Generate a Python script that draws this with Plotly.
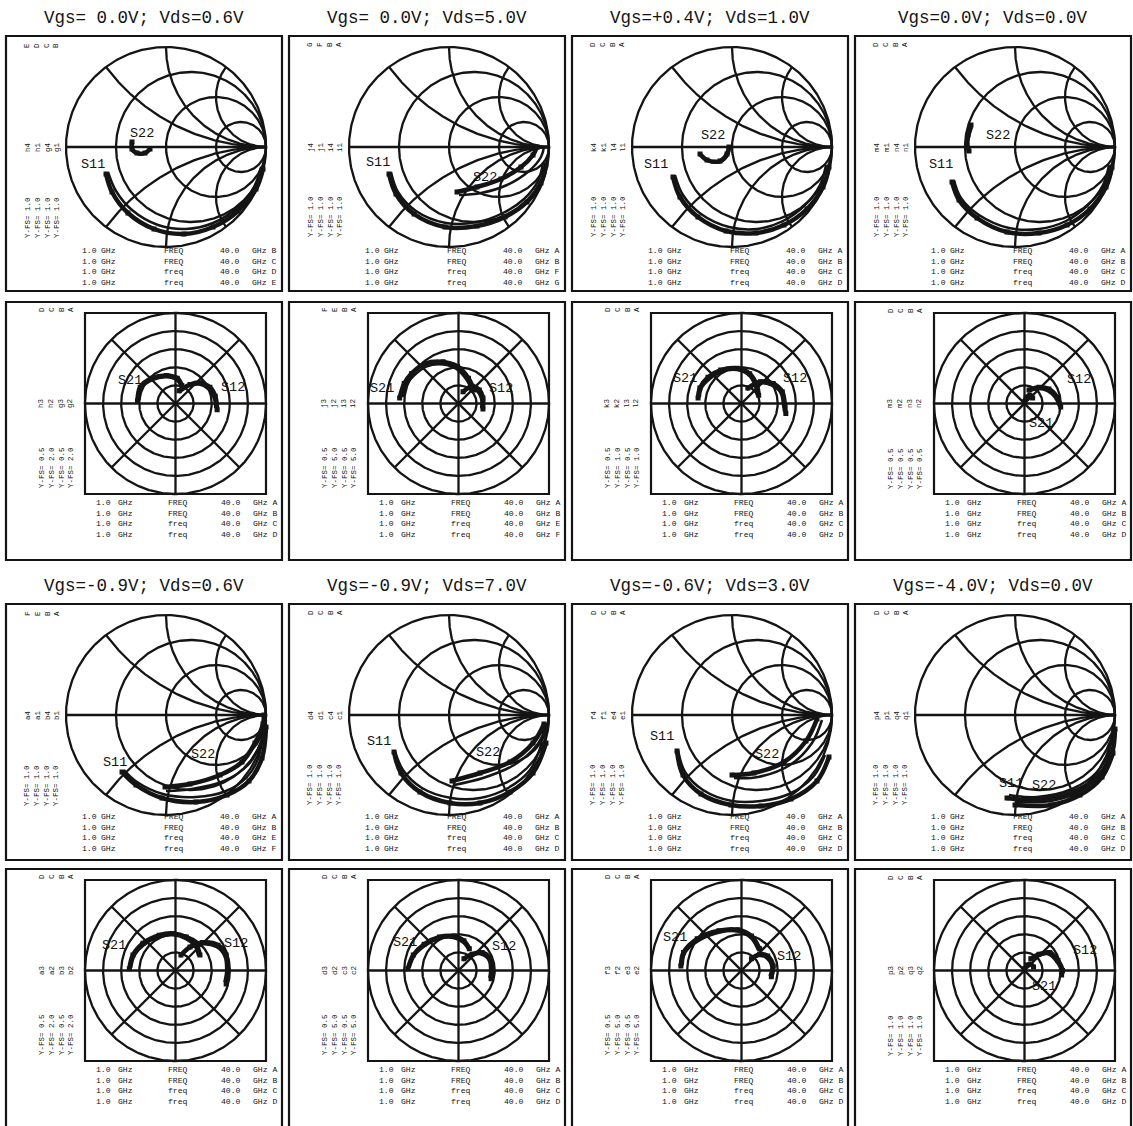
import numpy as np
import plotly.graph_objects as go

FIG_W, FIG_H = 1133, 1126

# ---------------------------------------------------------------------------
# Bias points shown above the Smith-chart rows
titles_top = ["Vgs= 0.0V; Vds=0.6V", "Vgs= 0.0V; Vds=5.0V",
              "Vgs=+0.4V; Vds=1.0V", "Vgs=0.0V; Vds=0.0V"]
titles_bottom = ["Vgs=-0.9V; Vds=0.6V", "Vgs=-0.9V; Vds=7.0V",
                 "Vgs=-0.6V; Vds=3.0V", "Vgs=-4.0V; Vds=0.0V"]

# Sweep description printed under every chart
f_start = "1.0"
f_stop = "40.0"
f_unit = "GHz"
sweep_names = ["FREQ", "FREQ", "freq", "freq"]

# ---------------------------------------------------------------------------
# Reflection coefficients (S11, S22), 1 - 40 GHz, measured and model
s11_meas_1 = [-0.60-0.27j, -0.54-0.45j, -0.38-0.66j, -0.12-0.82j, 0.18-0.87j, 0.47-0.80j, 0.72-0.64j, 0.90-0.42j, 0.97-0.22j]
s11_model_1 = [-0.58-0.25j, -0.50-0.44j, -0.34-0.63j, -0.08-0.78j, 0.20-0.82j, 0.47-0.76j, 0.72-0.60j, 0.88-0.40j, 0.95-0.20j]
s22_meas_1 = [-0.34+0.05j, -0.34-0.02j, -0.29-0.06j, -0.21-0.06j, -0.16-0.02j]
s22_model_1 = [-0.33+0.04j, -0.33-0.03j, -0.28-0.07j, -0.20-0.06j, -0.15-0.01j]

s11_meas_2 = [-0.60-0.27j, -0.53-0.47j, -0.35-0.67j, -0.04-0.80j, 0.28-0.79j, 0.56-0.70j, 0.78-0.55j, 0.92-0.36j, 0.97-0.18j]
s11_model_2 = [-0.58-0.25j, -0.51-0.45j, -0.33-0.64j, -0.03-0.76j, 0.28-0.75j, 0.54-0.66j, 0.75-0.52j, 0.89-0.34j, 0.94-0.16j]
s22_meas_2 = [0.08-0.45j, 0.28-0.40j, 0.52-0.32j, 0.72-0.20j, 0.84-0.08j, 0.88+0.00j]
s22_model_2 = [0.10-0.48j, 0.32-0.46j, 0.58-0.38j, 0.80-0.24j, 0.92-0.10j, 0.95+0.00j]

s11_meas_3 = [-0.59-0.30j, -0.52-0.50j, -0.34-0.70j, -0.06-0.84j, 0.24-0.86j, 0.52-0.78j, 0.75-0.62j, 0.91-0.40j, 0.97-0.20j]
s11_model_3 = [-0.57-0.28j, -0.49-0.48j, -0.31-0.67j, -0.03-0.80j, 0.25-0.82j, 0.51-0.74j, 0.73-0.58j, 0.88-0.38j, 0.94-0.18j]
s22_meas_3 = [-0.32-0.07j, -0.25-0.13j, -0.12-0.14j, -0.05-0.07j, -0.03+0.00j]
s22_model_3 = [-0.31-0.08j, -0.24-0.14j, -0.11-0.15j, -0.04-0.08j, -0.02+0.01j]

s11_meas_4 = [-0.63-0.35j, -0.56-0.53j, -0.38-0.71j, -0.08-0.85j, 0.24-0.86j, 0.52-0.78j, 0.75-0.62j, 0.91-0.40j, 0.97-0.20j]
s11_model_4 = [-0.61-0.33j, -0.54-0.51j, -0.36-0.68j, -0.06-0.81j, 0.24-0.82j, 0.51-0.74j, 0.73-0.58j, 0.88-0.38j, 0.94-0.18j]
s22_meas_4 = [-0.44+0.22j, -0.47+0.12j, -0.48+0.02j, -0.46-0.04j]
s22_model_4 = [-0.43+0.20j, -0.46+0.10j, -0.47+0.01j, -0.45-0.05j]

s11_meas_5 = [-0.44-0.57j, -0.30-0.70j, -0.04-0.83j, 0.30-0.87j, 0.61-0.80j, 0.83-0.66j, 0.96-0.43j, 1.00-0.12j]
s11_model_5 = [-0.42-0.55j, -0.29-0.67j, -0.03-0.79j, 0.30-0.82j, 0.60-0.76j, 0.81-0.62j, 0.93-0.41j, 0.97-0.10j]
s22_meas_5 = [-0.01-0.72j, 0.24-0.69j, 0.54-0.60j, 0.76-0.47j, 0.89-0.28j, 0.97-0.09j, 0.98+0.00j]
s22_model_5 = [0.00-0.76j, 0.26-0.74j, 0.58-0.66j, 0.82-0.50j, 0.95-0.28j, 1.00-0.05j]

s11_meas_6 = [-0.55-0.37j, -0.48-0.58j, -0.29-0.77j, 0.01-0.88j, 0.31-0.88j, 0.61-0.77j, 0.84-0.58j, 0.97-0.28j]
s11_model_6 = [-0.54-0.36j, -0.46-0.55j, -0.27-0.73j, 0.02-0.83j, 0.31-0.83j, 0.59-0.73j, 0.81-0.55j, 0.93-0.27j]
s22_meas_6 = [0.03-0.66j, 0.31-0.58j, 0.61-0.47j, 0.84-0.28j, 0.95-0.09j]
s22_model_6 = [0.05-0.70j, 0.34-0.63j, 0.65-0.50j, 0.88-0.30j, 0.98-0.10j]

s11_meas_7 = [-0.55-0.36j, -0.49-0.60j, -0.31-0.79j, -0.01-0.90j, 0.29-0.91j, 0.59-0.84j, 0.85-0.66j, 0.97-0.42j]
s11_model_7 = [-0.54-0.35j, -0.47-0.57j, -0.29-0.75j, 0.00-0.86j, 0.29-0.86j, 0.57-0.79j, 0.81-0.62j, 0.93-0.40j]
s22_meas_7 = [0.00-0.60j, 0.22-0.58j, 0.52-0.47j, 0.74-0.26j, 0.85-0.04j]
s22_model_7 = [0.02-0.63j, 0.26-0.62j, 0.58-0.50j, 0.80-0.28j, 0.90-0.05j]

s11_meas_8 = [-0.08-0.83j, 0.21-0.85j, 0.58-0.77j, 0.84-0.60j, 0.97-0.38j, 1.00-0.14j]
s11_model_8 = [-0.06-0.80j, 0.22-0.82j, 0.57-0.74j, 0.82-0.57j, 0.94-0.36j, 0.98-0.12j]
s22_meas_8 = [0.00-0.90j, 0.36-0.90j, 0.65-0.80j, 0.87-0.62j, 0.98-0.38j]
s22_model_8 = [0.02-0.87j, 0.36-0.86j, 0.64-0.77j, 0.85-0.59j, 0.96-0.35j]

# ---------------------------------------------------------------------------
# Transmission coefficients (S21, S12), 1 - 40 GHz, measured and model
s21_meas_1 = [-0.84+0.06j, -0.78+0.36j, -0.52+0.56j, -0.20+0.62j, 0.04+0.56j, 0.14+0.40j]
s21_model_1 = [-0.80+0.08j, -0.74+0.34j, -0.50+0.52j, -0.20+0.58j, 0.02+0.52j, 0.12+0.38j]
s12_meas_1 = [0.02+0.07j, 0.08+0.105j, 0.135+0.115j, 0.19+0.09j, 0.22+0.04j, 0.23-0.035j]
s12_model_1 = [0.02+0.06j, 0.075+0.095j, 0.13+0.105j, 0.18+0.08j, 0.21+0.035j, 0.22-0.025j]

s21_meas_2 = [-3.25+0.30j, -3.00+1.10j, -2.60+1.65j, -1.85+2.20j, -0.85+2.30j, -0.05+2.05j, 0.55+1.40j, 0.85+0.75j]
s21_model_2 = [-3.10+0.35j, -2.85+1.05j, -2.45+1.55j, -1.75+2.05j, -0.85+2.15j, -0.10+1.90j, 0.45+1.30j, 0.75+0.70j]
s12_meas_2 = [0.025+0.065j, 0.075+0.095j, 0.115+0.075j, 0.135+0.03j, 0.135-0.03j]
s12_model_2 = [0.02+0.055j, 0.07+0.085j, 0.105+0.065j, 0.125+0.025j, 0.125-0.025j]

s21_meas_3 = [-0.48+0.06j, -0.46+0.17j, -0.37+0.29j, -0.23+0.37j, -0.05+0.39j, 0.09+0.33j, 0.17+0.20j, 0.19+0.09j]
s21_model_3 = [-0.46+0.07j, -0.44+0.17j, -0.35+0.27j, -0.22+0.35j, -0.05+0.37j, 0.08+0.31j, 0.15+0.19j, 0.17+0.09j]
s12_meas_3 = [0.035+0.085j, 0.105+0.12j, 0.175+0.11j, 0.225+0.065j, 0.24-0.01j, 0.245-0.055j]
s12_model_3 = [0.03+0.075j, 0.10+0.11j, 0.165+0.10j, 0.215+0.06j, 0.23-0.01j, 0.235-0.045j]

s21_meas_4 = [0.00+0.01j, 0.01+0.035j, 0.03+0.045j, 0.045+0.03j]
s21_model_4 = [0.00+0.01j, 0.01+0.03j, 0.03+0.04j, 0.04+0.025j]
s12_meas_4 = [0.025+0.075j, 0.08+0.09j, 0.135+0.08j, 0.18+0.035j, 0.20-0.02j]
s12_model_4 = [0.02+0.065j, 0.075+0.08j, 0.125+0.07j, 0.17+0.03j, 0.19-0.015j]

s21_meas_5 = [-1.02+0.04j, -0.94+0.34j, -0.72+0.60j, -0.36+0.78j, -0.06+0.82j, 0.24+0.74j, 0.46+0.56j, 0.54+0.34j]
s21_model_5 = [-0.98+0.06j, -0.90+0.34j, -0.70+0.56j, -0.36+0.74j, -0.06+0.78j, 0.22+0.70j, 0.42+0.54j, 0.50+0.32j]
s12_meas_5 = [0.03+0.085j, 0.08+0.13j, 0.15+0.155j, 0.235+0.14j, 0.28+0.085j, 0.29+0.00j, 0.28-0.075j]
s12_model_5 = [0.025+0.075j, 0.075+0.12j, 0.145+0.145j, 0.225+0.13j, 0.27+0.08j, 0.28+0.00j, 0.27-0.065j]

s21_meas_6 = [-2.80+0.10j, -2.50+0.85j, -1.90+1.45j, -1.05+1.85j, -0.30+1.90j, 0.30+1.65j, 0.60+1.20j]
s21_model_6 = [-2.70+0.15j, -2.40+0.85j, -1.85+1.35j, -1.05+1.75j, -0.30+1.80j, 0.25+1.55j, 0.55+1.15j]
s12_meas_6 = [0.03+0.065j, 0.075+0.09j, 0.13+0.10j, 0.175+0.065j, 0.185+0.00j, 0.18-0.045j]
s12_model_6 = [0.025+0.055j, 0.07+0.08j, 0.12+0.09j, 0.165+0.06j, 0.175+0.00j, 0.17-0.04j]

s21_meas_7 = [-3.35+0.25j, -3.20+1.00j, -2.45+1.75j, -1.25+2.20j, -0.20+2.25j, 0.55+1.90j, 1.00+1.20j]
s21_model_7 = [-3.25+0.30j, -3.10+1.00j, -2.35+1.65j, -1.20+2.10j, -0.20+2.15j, 0.50+1.80j, 0.90+1.15j]
s12_meas_7 = [0.055+0.065j, 0.10+0.09j, 0.145+0.08j, 0.175+0.025j, 0.165-0.035j]
s12_model_7 = [0.05+0.055j, 0.095+0.08j, 0.135+0.07j, 0.165+0.02j, 0.155-0.03j]

s21_meas_8 = [0.00+0.02j, 0.03+0.06j, 0.07+0.07j, 0.10+0.04j]
s21_model_8 = [0.00+0.02j, 0.03+0.05j, 0.06+0.06j, 0.09+0.035j]
s12_meas_8 = [0.07+0.13j, 0.16+0.18j, 0.28+0.20j, 0.37+0.11j, 0.42+0.00j, 0.41-0.05j]
s12_model_8 = [0.06+0.11j, 0.15+0.16j, 0.26+0.18j, 0.35+0.10j, 0.40+0.00j, 0.39-0.04j]

# Full-scale settings of the polar displays (traces A, B, C, D)
yfs_polar_1 = [2.0, 0.5, 2.0, 0.5]
yfs_polar_2 = [5.0, 0.5, 5.0, 0.5]
yfs_polar_3 = [1.0, 0.5, 1.0, 0.5]
yfs_polar_4 = [0.5, 0.5, 0.5, 0.5]
yfs_polar_5 = [2.0, 0.5, 2.0, 0.5]
yfs_polar_6 = [5.0, 0.5, 5.0, 0.5]
yfs_polar_7 = [5.0, 0.5, 5.0, 0.5]
yfs_polar_8 = [1.0, 1.0, 1.0, 1.0]
yfs_smith = [1.0, 1.0, 1.0, 1.0]

# Trace letters and data-set names for each display
letters_smith = [["B", "C", "D", "E"], ["A", "B", "F", "G"], ["A", "B", "C", "D"], ["A", "B", "C", "D"],
                 ["A", "B", "E", "F"], ["A", "B", "C", "D"], ["A", "B", "C", "D"], ["A", "B", "C", "D"]]
letters_polar = [["A", "B", "C", "D"], ["A", "B", "E", "F"], ["A", "B", "C", "D"], ["A", "B", "C", "D"],
                 ["A", "B", "C", "D"], ["A", "B", "C", "D"], ["A", "B", "C", "D"], ["A", "B", "C", "D"]]
sets_smith = [["h4", "h1", "g4", "g1"], ["j4", "j1", "i4", "i1"], ["k4", "k1", "l4", "l1"], ["m4", "m1", "n4", "n1"],
              ["a4", "a1", "b4", "b1"], ["d4", "d1", "c4", "c1"], ["f4", "f1", "e4", "e1"], ["p4", "p1", "q4", "q1"]]
sets_polar = [["h3", "h2", "g3", "g2"], ["j3", "j2", "i3", "i2"], ["k3", "k2", "l3", "l2"], ["m3", "m2", "n3", "n2"],
              ["a3", "a2", "b3", "b2"], ["d3", "d2", "c3", "c2"], ["f3", "f2", "e3", "e2"], ["p3", "p2", "q3", "q2"]]

smith_data = [
    (s11_meas_1, s11_model_1, s22_meas_1, s22_model_1),
    (s11_meas_2, s11_model_2, s22_meas_2, s22_model_2),
    (s11_meas_3, s11_model_3, s22_meas_3, s22_model_3),
    (s11_meas_4, s11_model_4, s22_meas_4, s22_model_4),
    (s11_meas_5, s11_model_5, s22_meas_5, s22_model_5),
    (s11_meas_6, s11_model_6, s22_meas_6, s22_model_6),
    (s11_meas_7, s11_model_7, s22_meas_7, s22_model_7),
    (s11_meas_8, s11_model_8, s22_meas_8, s22_model_8),
]
polar_data = [
    (s21_meas_1, s12_meas_1, s21_model_1, s12_model_1, yfs_polar_1),
    (s21_meas_2, s12_meas_2, s21_model_2, s12_model_2, yfs_polar_2),
    (s21_meas_3, s12_meas_3, s21_model_3, s12_model_3, yfs_polar_3),
    (s21_meas_4, s12_meas_4, s21_model_4, s12_model_4, yfs_polar_4),
    (s21_meas_5, s12_meas_5, s21_model_5, s12_model_5, yfs_polar_5),
    (s21_meas_6, s12_meas_6, s21_model_6, s12_model_6, yfs_polar_6),
    (s21_meas_7, s12_meas_7, s21_model_7, s12_model_7, yfs_polar_7),
    (s21_meas_8, s12_meas_8, s21_model_8, s12_model_8, yfs_polar_8),
]

# Label placement (chart coordinates) for the curve names
smith_label_pos = [((-0.73, -0.17), (-0.24, 0.14)), ((-0.71, -0.15), (0.36, -0.30)),
                   ((-0.76, -0.17), (-0.19, 0.12)), ((-0.74, -0.17), (-0.17, 0.12)),
                   ((-0.51, -0.47), (0.37, -0.39)), ((-0.70, -0.26), (0.39, -0.37)),
                   ((-0.70, -0.21), (0.35, -0.39)), ((-0.04, -0.68), (0.29, -0.70))]
polar_label_pos = [((-0.50, 0.25), (0.63, 0.18)), ((-0.84, 0.17), (0.47, 0.17)),
                   ((-0.62, 0.28), (0.59, 0.28)), ((0.18, -0.22), (0.60, 0.26)),
                   ((-0.68, 0.28), (0.67, 0.30)), ((-0.59, 0.31), (0.50, 0.26)),
                   ((-0.73, 0.36), (0.52, 0.16)), ((0.22, -0.18), (0.67, 0.22))]

# ---------------------------------------------------------------------------
# Page geometry (pixels)
col_left = [6, 289, 572, 855]
frame_w = 276
row_top = [36, 302, 604, 869]
row_h = [255, 258, 256, 262]
sweep_top = [208, 194, 206, 194]
INK = "#141414"
MONO = "Liberation Mono, Courier New, monospace"
PAD = 1.05
GRID_W = 2.3

fig = go.Figure()
shapes, annotations = [], []
layout_axes = {}


def px(x):
    return x / FIG_W


def py(y):
    return 1 - y / FIG_H


def smith_grid():
    xs, ys = [], []
    t = np.linspace(0, 2 * np.pi, 361)
    xs += list(np.cos(t)) + [None]
    ys += list(np.sin(t)) + [None]
    xs += [-1, 1, None]
    ys += [0, 0, None]
    for r in (1 / 3, 1.0, 3.0):
        c, rad = r / (1 + r), 1 / (1 + r)
        xs += list(c + rad * np.cos(t)) + [None]
        ys += list(rad * np.sin(t)) + [None]
    rr = np.concatenate([[0.0], np.logspace(-3, 4, 500)])
    for xv in (0.5, 1.0, 2.0, -0.5, -1.0, -2.0):
        z = rr + 1j * xv
        g = (z - 1) / (z + 1)
        xs += list(g.real) + [1.0, None]
        ys += list(g.imag) + [0.0, None]
    return xs, ys


def polar_grid():
    xs, ys = [], []
    t = np.linspace(0, 2 * np.pi, 361)
    for rad in (0.2, 0.4, 0.6, 0.8, 1.0):
        xs += list(rad * np.cos(t)) + [None]
        ys += list(rad * np.sin(t)) + [None]
    for ang in range(0, 180, 45):
        a = np.deg2rad(ang)
        xs += [-np.cos(a), np.cos(a), None]
        ys += [-np.sin(a), np.sin(a), None]
    return xs, ys


def add_axes(k, cx, cy, half):
    xa = "xaxis" if k == 1 else f"xaxis{k}"
    ya = "yaxis" if k == 1 else f"yaxis{k}"
    xr = "x" if k == 1 else f"x{k}"
    yr = "y" if k == 1 else f"y{k}"
    layout_axes[xa] = dict(domain=[px(cx - half * PAD), px(cx + half * PAD)], range=[-PAD, PAD],
                           visible=False, fixedrange=True, anchor=yr)
    layout_axes[ya] = dict(domain=[py(cy + half * PAD), py(cy - half * PAD)], range=[-PAD, PAD],
                           visible=False, fixedrange=True, anchor=xr)
    return xr, yr


def curve(vals, xr, yr, scale, width, marker):
    arr = np.asarray(vals, dtype=complex) / scale
    fig.add_trace(go.Scatter(
        x=arr.real, y=arr.imag, xaxis=xr, yaxis=yr,
        mode="lines+markers" if marker else "lines",
        line=dict(color=INK, width=width, shape="spline", smoothing=1.0),
        marker=dict(symbol="square", size=5, color=INK),
        hoverinfo="skip", showlegend=False))


def side_labels(x0, y0, lx, y_top, y_mid, y_fs, letters, sets, fs):
    font = dict(family=MONO, size=7.5, color=INK)
    annotations.append(dict(x=px(x0 + lx), y=py(y0 + y_top), xref="paper", yref="paper",
                            text="<br>".join(reversed(letters)), textangle=-90, showarrow=False,
                            font=font, xanchor="center", yanchor="middle"))
    annotations.append(dict(x=px(x0 + lx), y=py(y0 + y_mid), xref="paper", yref="paper",
                            text="<br>".join(sets), textangle=-90, showarrow=False,
                            font=font, xanchor="center", yanchor="middle"))
    annotations.append(dict(x=px(x0 + lx), y=py(y0 + y_fs), xref="paper", yref="paper",
                            text="<br>".join(f"Y-FS= {v:.1f}" for v in reversed(fs)), textangle=-90,
                            showarrow=False, font=font, xanchor="center", yanchor="middle"))


def sweep_block(x0, y_text, offs, letters):
    cols = [[f_start] * 4, [f_unit] * 4, sweep_names, [f_stop] * 4, [f"{f_unit} {l}" for l in letters]]
    for off, col in zip(offs, cols):
        annotations.append(dict(x=px(x0 + off), y=py(y_text), xref="paper", yref="paper",
                                text="<br>".join(col), showarrow=False, align="left",
                                font=dict(family=MONO, size=8.1, color=INK),
                                xanchor="left", yanchor="top"))


k = 0
smith_i = polar_i = 0
for r in range(4):
    for c in range(4):
        k += 1
        x0, y0 = col_left[c], row_top[r]
        shapes.append(dict(type="rect", xref="paper", yref="paper",
                           x0=px(x0), x1=px(x0 + frame_w), y0=py(y0 + row_h[r]), y1=py(y0),
                           line=dict(color=INK, width=2.2)))
        if r in (0, 2):
            i = smith_i
            smith_i += 1
            cx, cy, R = x0 + 160, y0 + 111, 100
            xr, yr = add_axes(k, cx, cy, R)
            gx, gy = smith_grid()
            fig.add_trace(go.Scatter(x=gx, y=gy, xaxis=xr, yaxis=yr, mode="lines",
                                     line=dict(color=INK, width=GRID_W), hoverinfo="skip",
                                     showlegend=False))
            s11m, s11d, s22m, s22d = smith_data[i]
            curve(s11d, xr, yr, 1.0, 2.5, False)
            curve(s11m, xr, yr, 1.0, 4.5, True)
            curve(s22d, xr, yr, 1.0, 2.5, False)
            curve(s22m, xr, yr, 1.0, 4.5, True)
            for name, pos in zip(("S11", "S22"), smith_label_pos[i]):
                annotations.append(dict(x=pos[0], y=pos[1], xref=xr, yref=yr, text=name,
                                        showarrow=False, font=dict(family=MONO, size=13.5, color=INK)))
            side_labels(x0, y0, 36, 9, 111, 181, letters_smith[i], sets_smith[i], yfs_smith)
            sweep_block(x0, y0 + sweep_top[r], [74, 93, 156, 212, 244], letters_smith[i])
        else:
            i = polar_i
            polar_i += 1
            sx0, sy0, S = x0 + 79, y0 + 11, 181
            cx, cy = sx0 + S / 2, sy0 + S / 2
            xr, yr = add_axes(k, cx, cy, S / 2)
            shapes.append(dict(type="rect", xref=xr, yref=yr, x0=-1, x1=1, y0=-1, y1=1,
                               line=dict(color=INK, width=2.2)))
            gx, gy = polar_grid()
            fig.add_trace(go.Scatter(x=gx, y=gy, xaxis=xr, yaxis=yr, mode="lines",
                                     line=dict(color=INK, width=GRID_W), hoverinfo="skip",
                                     showlegend=False))
            s21m, s12m, s21d, s12d, fs = polar_data[i]
            curve(s21d, xr, yr, fs[2], 2.5, False)
            curve(s21m, xr, yr, fs[0], 4.5, True)
            curve(s12d, xr, yr, fs[3], 2.5, False)
            curve(s12m, xr, yr, fs[1], 4.5, True)
            for name, pos in zip(("S21", "S12"), polar_label_pos[i]):
                annotations.append(dict(x=pos[0], y=pos[1], xref=xr, yref=yr, text=name,
                                        showarrow=False, font=dict(family=MONO, size=13.5, color=INK)))
            side_labels(x0, y0, 50, 8, 101, 166, letters_polar[i], sets_polar[i], fs)
            sweep_block(x0, y0 + sweep_top[r], [88, 110, 160, 213, 245], letters_polar[i])

for c in range(4):
    xc = col_left[c] + frame_w / 2
    annotations.append(dict(x=px(xc), y=py(18), xref="paper", yref="paper", text=titles_top[c],
                            showarrow=False, font=dict(family=MONO, size=17.5, color=INK),
                            xanchor="center", yanchor="middle"))
    annotations.append(dict(x=px(xc), y=py(586), xref="paper", yref="paper", text=titles_bottom[c],
                            showarrow=False, font=dict(family=MONO, size=17.5, color=INK),
                            xanchor="center", yanchor="middle"))

fig.update_layout(width=FIG_W, height=FIG_H, margin=dict(l=0, r=0, t=0, b=0),
                  paper_bgcolor="white", plot_bgcolor="rgba(0,0,0,0)",
                  shapes=shapes, annotations=annotations, showlegend=False, **layout_axes)
fig.write_html("out.html", config={"displayModeBar": False})
